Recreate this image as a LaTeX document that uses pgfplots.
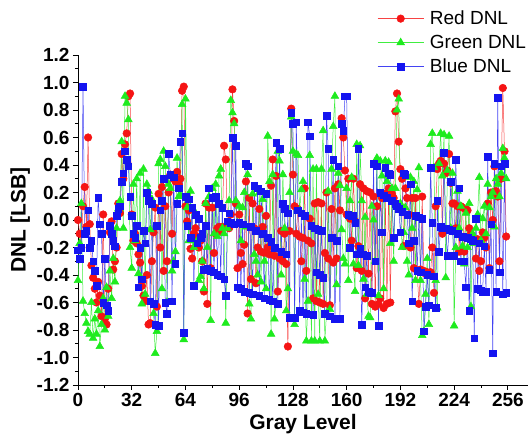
\documentclass[border=0pt]{standalone}
\usepackage{fontspec}
\setmainfont{Liberation Sans}
\usepackage{pgfplots}
\usepackage{pgfplotstable}
\pgfplotsset{compat=1.18}
\definecolor{dnlred}{RGB}{245,20,20}
\definecolor{dnlgreen}{RGB}{30,235,30}
\definecolor{dnlblue}{RGB}{20,20,240}

% DNL per gray level 0..255
\pgfplotstableread[row sep=\\]{y\\
0.0\\ -0.1\\ -0.2\\ 0.1\\ 0.24\\ -0.05\\ 0.6\\ -0.03\\ -0.33\\ -0.42\\ -0.5\\ -0.6\\ -0.45\\ -0.55\\ -0.7\\ 0.04\\
-0.72\\ -0.76\\ -0.5\\ -0.09\\ -0.01\\ -0.36\\ -0.3\\ -0.2\\ 0.12\\ 0.05\\ 0.48\\ 0.3\\ 0.55\\ 0.63\\ 0.9\\ 0.92\\
0.04\\ -0.15\\ -0.1\\ -0.17\\ -0.25\\ -0.31\\ -0.48\\ -0.55\\ -0.59\\ -0.4\\ -0.76\\ -0.75\\ -0.3\\ -0.09\\ 0.09\\ -0.63\\
0.19\\ -0.2\\ 0.24\\ -0.37\\ 0.1\\ -0.3\\ 0.2\\ 0.33\\ -0.1\\ 0.3\\ 0.28\\ 0.35\\ 0.26\\ 0.3\\ 0.94\\ 0.97\\
0.1\\ -0.01\\ 0.07\\ -0.21\\ -0.28\\ -0.1\\ -0.06\\ -0.12\\ -0.2\\ -0.15\\ -0.3\\ -0.52\\ 0.12\\ -0.61\\ 0.09\\ -0.35\\
0.09\\ -0.24\\ -0.1\\ -0.06\\ -0.05\\ -0.08\\ -0.05\\ 0.54\\ 0.44\\ -0.04\\ -0.06\\ 0.04\\ 0.95\\ 0.72\\ 0.12\\ -0.35\\
0.04\\ -0.24\\ -0.32\\ -0.18\\ 0.28\\ -0.68\\ 0.16\\ -0.43\\ 0.12\\ -0.06\\ -0.46\\ -0.2\\ 0.08\\ -0.23\\ -0.05\\ -0.24\\
0.03\\ -0.2\\ -0.25\\ 0.25\\ 0.44\\ -0.26\\ 0.32\\ -0.52\\ -0.28\\ -0.08\\ -0.3\\ -0.1\\ -0.32\\ -0.92\\ -0.08\\ 0.81\\
0.33\\ 0.1\\ -0.1\\ 0.08\\ -0.12\\ -0.3\\ -0.13\\ 0.23\\ -0.37\\ -0.15\\ 0.01\\ -0.17\\ -0.57\\ 0.12\\ -0.59\\ 0.13\\
-0.6\\ 0.12\\ -0.61\\ -0.24\\ 0.2\\ -0.28\\ -0.62\\ 0.08\\ -0.31\\ 0.23\\ -0.28\\ 0.26\\ 0.07\\ 0.74\\ 0.6\\ 0.36\\
0.04\\ 0.3\\ 0.01\\ -0.15\\ 0.3\\ -0.01\\ -0.35\\ -0.19\\ 0.26\\ -0.37\\ 0.23\\ -0.57\\ 0.21\\ -0.39\\ 0.2\\ -0.61\\
0.17\\ -0.63\\ 0.1\\ -0.61\\ -0.57\\ 0.16\\ -0.64\\ 0.19\\ -0.61\\ 0.23\\ -0.6\\ 0.19\\ 0.16\\ 0.79\\ 0.92\\ 0.57\\
0.37\\ 0.3\\ -0.19\\ 0.23\\ 0.16\\ 0.04\\ -0.2\\ 0.16\\ -0.35\\ 0.16\\ -0.37\\ -0.61\\ -0.36\\ 0.17\\ -0.37\\ -0.39\\
-0.38\\ -0.4\\ -0.38\\ -0.2\\ -0.53\\ 0.1\\ 0.37\\ 0.41\\ 0.43\\ -0.1\\ 0.41\\ 0.34\\ 0.36\\ 0.48\\ 0.27\\ 0.12\\
0.12\\ -0.06\\ 0.1\\ -0.23\\ 0.1\\ 0.09\\ -0.23\\ 0.08\\ 0.07\\ -0.06\\ -0.1\\ -0.13\\ -0.14\\ -0.28\\ -0.14\\ -0.37\\
-0.3\\ -0.09\\ -0.13\\ -0.2\\ 0.12\\ -0.35\\ 0.2\\ 0.0\\ 0.39\\ 0.21\\ 0.17\\ -0.3\\ 0.3\\ 0.96\\ 0.5\\ -0.12\\
}\reddnl

\pgfplotstableread[row sep=\\]{y\\
-0.44\\ -0.17\\ 0.12\\ -0.59\\ -0.68\\ -0.75\\ -0.81\\ -0.83\\ -0.6\\ -0.86\\ -0.72\\ -0.83\\ -0.66\\ -0.92\\ -0.76\\ -0.57\\
-0.8\\ -0.49\\ -0.7\\ -0.37\\ -0.57\\ -0.28\\ -0.45\\ -0.06\\ 0.08\\ 0.14\\ 0.57\\ -0.06\\ 0.9\\ 0.85\\ 0.73\\ -0.2\\
-0.35\\ 0.26\\ -0.15\\ 0.3\\ -0.39\\ 0.34\\ -0.61\\ 0.37\\ -0.54\\ 0.26\\ 0.21\\ -0.07\\ 0.15\\ -0.68\\ -0.97\\ -0.81\\
0.41\\ 0.44\\ -0.5\\ 0.5\\ 0.39\\ -0.6\\ 0.26\\ 0.23\\ -0.37\\ -0.3\\ -0.23\\ 0.45\\ 0.17\\ 0.18\\ 0.84\\ -0.87\\
0.88\\ 0.09\\ -0.15\\ 0.21\\ -0.15\\ -0.2\\ 0.05\\ -0.15\\ -0.44\\ -0.41\\ -0.3\\ -0.5\\ 0.12\\ -0.2\\ 0.17\\ -0.73\\
0.23\\ -0.1\\ 0.26\\ -0.12\\ 0.32\\ 0.37\\ -0.06\\ -0.1\\ -0.75\\ -0.06\\ 0.14\\ 0.87\\ 0.78\\ 0.7\\ 0.14\\ -0.02\\
0.1\\ -0.15\\ 0.09\\ 0.2\\ -0.05\\ 0.33\\ -0.61\\ -0.72\\ 0.19\\ -0.25\\ -0.3\\ -0.4\\ 0.2\\ -0.45\\ 0.15\\ -0.3\\
-0.5\\ 0.61\\ 0.28\\ -0.83\\ 0.33\\ -0.72\\ -0.6\\ 0.5\\ 0.43\\ -0.4\\ 0.33\\ -0.06\\ -0.66\\ -0.5\\ 0.2\\ 0.75\\
0.5\\ -0.76\\ 0.48\\ 0.47\\ 0.07\\ 0.22\\ 0.28\\ -0.43\\ -0.88\\ -0.59\\ 0.47\\ -0.88\\ 0.37\\ -0.88\\ 0.37\\ -0.54\\
-0.88\\ 0.37\\ 0.65\\ -0.88\\ -0.68\\ 0.21\\ -0.65\\ 0.37\\ 0.68\\ 0.9\\ -0.47\\ 0.34\\ 0.25\\ -0.07\\ -0.28\\ -0.32\\
0.23\\ -0.44\\ 0.14\\ 0.31\\ -0.32\\ -0.52\\ 0.55\\ -0.33\\ 0.54\\ 0.14\\ -0.43\\ 0.02\\ -0.54\\ -0.7\\ -0.71\\ 0.1\\
0.0\\ -0.3\\ 0.45\\ -0.55\\ 0.43\\ 0.32\\ -0.5\\ 0.43\\ 0.28\\ 0.42\\ -0.17\\ 0.23\\ -0.3\\ 0.23\\ 0.8\\ 0.88\\
0.12\\ -0.2\\ -0.09\\ 0.09\\ -0.3\\ -0.4\\ 0.31\\ -0.06\\ 0.28\\ -0.44\\ 0.22\\ 0.38\\ -0.44\\ -0.84\\ -0.81\\ -0.54\\
-0.28\\ -0.76\\ 0.55\\ 0.63\\ 0.38\\ -0.44\\ -0.64\\ 0.41\\ 0.63\\ 0.32\\ 0.62\\ -0.42\\ 0.36\\ 0.61\\ -0.06\\ 0.34\\
-0.77\\ -0.2\\ 0.21\\ -0.06\\ 0.1\\ -0.19\\ -0.32\\ 0.05\\ -0.2\\ 0.12\\ -0.63\\ -0.1\\ -0.17\\ -0.06\\ 0.04\\ 0.31\\
-0.15\\ 0.01\\ 0.1\\ -0.1\\ 0.26\\ 0.09\\ 0.17\\ 0.2\\ -0.05\\ 0.3\\ 0.26\\ 0.17\\ 0.34\\ 0.52\\ 0.45\\ 0.3\\
}\greendnl

\pgfplotstableread[row sep=\\]{y\\
-0.22\\ -0.28\\ -0.2\\ 0.97\\ -0.1\\ -0.08\\ 0.07\\ -0.2\\ -0.15\\ -0.3\\ -0.37\\ -0.48\\ 0.16\\ -0.03\\ -0.1\\ -0.6\\
-0.28\\ -0.62\\ -0.66\\ -0.04\\ -0.1\\ -0.15\\ -0.19\\ 0.03\\ 0.08\\ 0.1\\ 0.28\\ 0.34\\ 0.5\\ 0.44\\ 0.39\\ 0.17\\
0.03\\ -0.1\\ -0.13\\ -0.04\\ -0.49\\ -0.2\\ -0.43\\ -0.08\\ -0.17\\ 0.2\\ 0.14\\ -0.59\\ 0.12\\ -0.61\\ -0.76\\ -0.04\\
-0.77\\ 0.07\\ 0.14\\ 0.3\\ -0.6\\ -0.68\\ 0.48\\ 0.33\\ -0.59\\ 0.31\\ -0.32\\ 0.12\\ 0.23\\ 0.57\\ 0.63\\ -0.82\\
0.17\\ -0.04\\ 0.15\\ -0.13\\ 0.09\\ -0.48\\ 0.04\\ -0.17\\ 0.01\\ -0.13\\ -0.1\\ -0.36\\ -0.04\\ -0.35\\ 0.23\\ -0.37\\
0.16\\ -0.38\\ 0.17\\ -0.4\\ 0.12\\ -0.41\\ 0.09\\ -0.43\\ -0.55\\ -0.01\\ 0.05\\ -0.02\\ 0.6\\ -0.03\\ 0.54\\ -0.49\\
-0.02\\ -0.5\\ -0.03\\ -0.52\\ 0.41\\ 0.39\\ -0.53\\ -0.05\\ -0.54\\ 0.25\\ -0.08\\ 0.23\\ -0.55\\ 0.21\\ -0.1\\ -0.57\\
0.19\\ -0.13\\ -0.58\\ -0.16\\ -0.59\\ -0.2\\ 0.56\\ -0.61\\ 0.52\\ -0.23\\ 0.12\\ 0.08\\ -0.25\\ 0.05\\ -0.71\\ 0.78\\
0.7\\ -0.71\\ 0.71\\ 0.07\\ -0.66\\ 0.05\\ -0.67\\ 0.03\\ -0.68\\ 0.71\\ 0.61\\ -0.04\\ -0.69\\ -0.06\\ -0.38\\ -0.07\\
-0.4\\ -0.08\\ -0.42\\ -0.68\\ 0.76\\ 0.52\\ -0.7\\ -0.13\\ 0.44\\ -0.72\\ -0.15\\ 0.39\\ -0.72\\ 0.7\\ 0.65\\ 0.9\\
0.9\\ 0.04\\ -0.2\\ 0.03\\ 0.03\\ -0.02\\ -0.25\\ 0.52\\ -0.21\\ -0.76\\ -0.25\\ -0.49\\ -0.26\\ -0.52\\ -0.53\\ -0.53\\
0.41\\ -0.3\\ 0.39\\ -0.77\\ 0.2\\ -0.09\\ 0.18\\ 0.38\\ 0.16\\ 0.34\\ 0.33\\ 0.14\\ -0.13\\ 0.12\\ 0.1\\ 0.08\\
-0.09\\ 0.06\\ 0.34\\ 0.33\\ 0.04\\ -0.17\\ 0.26\\ -0.59\\ -0.15\\ 0.03\\ -0.37\\ 0.02\\ -0.38\\ 0.01\\ -0.81\\ -0.63\\
-0.4\\ -0.62\\ 0.38\\ -0.02\\ -0.41\\ -0.64\\ 0.14\\ -0.23\\ -0.05\\ -0.06\\ 0.49\\ -0.06\\ -0.26\\ -0.07\\ 0.28\\ -0.08\\
-0.26\\ 0.44\\ -0.1\\ 0.23\\ -0.3\\ -0.12\\ -0.3\\ -0.49\\ -0.13\\ -0.66\\ -0.14\\ -0.15\\ -0.86\\ 0.01\\ -0.5\\ -0.17\\
-0.51\\ -0.52\\ -0.19\\ -0.52\\ 0.46\\ -0.36\\ -0.03\\ -0.97\\ 0.41\\ -0.52\\ 0.89\\ -0.38\\ 0.39\\ -0.54\\ 0.41\\ -0.53\\
}\bluednl

\begin{document}
\begin{tikzpicture}
\begin{axis}[
  at={(0,0)}, anchor=south west,
  scale only axis, width=450pt, height=330pt,
  xmin=0, xmax=268, ymin=-1.2, ymax=1.2,
  axis lines=left, axis line style={-, line width=0.9pt},
  xtick={0,32,64,96,128,160,192,224,256}, minor x tick num=1,
  ytick={-1.2,-1.0,-0.8,-0.6,-0.4,-0.2,0,0.2,0.4,0.6,0.8,1.0,1.2},
  yticklabels={-1.2,-1.0,-0.8,-0.6,-0.4,-0.2,0.0,0.2,0.4,0.6,0.8,1.0,1.2},
  minor y tick num=1,
  tick align=outside, major tick length=5pt, minor tick length=3pt,
  tick style={black, line width=0.8pt},
  /pgf/number format/assume math mode=true,
  ticklabel style={font=\bfseries\fontsize{19}{22}\selectfont},
  xlabel={Gray Level}, ylabel={DNL [LSB]},
  label style={font=\bfseries\fontsize{21}{24}\selectfont},
  legend style={at={(0.665,1.14)}, anchor=north west, draw=none, fill=none,
    font=\fontsize{19}{22}\selectfont, row sep=5pt, inner sep=0pt,
    nodes={inner xsep=6pt}},
  legend cell align=left,
  legend image code/.code={\draw[mark repeat=2, mark phase=2, #1] plot coordinates {(0pt,0pt) (23pt,0pt) (46pt,0pt)};},
]
\addplot[color=dnlred!80, line width=0.5pt, mark=*, mark size=3.8pt,
  mark options={fill=dnlred, draw=dnlred}] table[x expr=\coordindex, y=y] {\reddnl};
\addplot[color=dnlgreen!85, line width=0.5pt, mark=triangle*, mark size=4.5pt,
  mark options={fill=dnlgreen, draw=dnlgreen}] table[x expr=\coordindex, y=y] {\greendnl};
\addplot[color=dnlblue!80, line width=0.5pt, mark=square*, mark size=3.3pt,
  mark options={fill=dnlblue, draw=dnlblue}] table[x expr=\coordindex, y=y] {\bluednl};
\legend{Red DNL, Green DNL, Blue DNL}
\end{axis}
\pgfresetboundingbox
\path[use as bounding box] (-78pt,-53pt) rectangle (450pt,385pt);
\end{tikzpicture}
\end{document}
